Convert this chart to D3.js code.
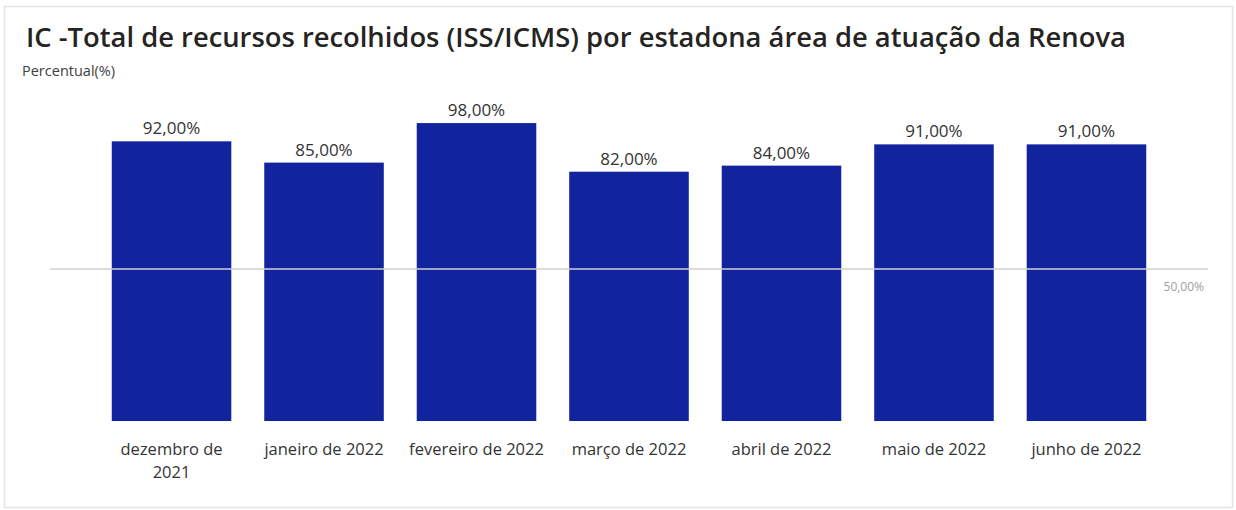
<!DOCTYPE html>
<html>
<head>
<meta charset="utf-8">
<script src="https://cdn.jsdelivr.net/npm/d3@7"></script>
<style>
  body { margin: 0; background: #fff; }
  text { font-family: "Open Sans", "Noto Sans", sans-serif; }
</style>
</head>
<body>
<div id="chart"></div>
<script>
// data
var categories = ["dezembro de\n2021", "janeiro de 2022", "fevereiro de 2022", "março de 2022",
                  "abril de 2022", "maio de 2022", "junho de 2022"];
var values = [92, 85, 98, 82, 84, 91, 91];
var refValue = 50;
var yDomain = [0, 100];

var W = 1236, H = 510;
var fmt = function(v) { return d3.format(".2f")(v).replace(".", ",") + "%"; };

var svg = d3.select("#chart")
  .append("svg")
    .attr("width", W)
    .attr("height", H);

// card frame
svg.append("rect")
  .attr("x", 4.5).attr("y", 6.5)
  .attr("width", 1228)
  .attr("height", 501)
  .attr("fill", "#fff")
  .attr("stroke", "#e4e4e4")
  .attr("stroke-width", 1.5);

// title
var title = svg.append("text")
  .attr("x", 26).attr("y", 47)
  .attr("font-weight", 600)
  .attr("font-size", 24)
  .attr("fill", "#252423")
  .text("IC -Total de recursos recolhidos (ISS/ICMS) por estadona área de atuação da Renova");
// fit to the width seen in the picture
var tl = title.node().getComputedTextLength();
title.attr("font-size", 24 * 1100 / tl);

svg.append("text")
  .attr("x", 22).attr("y", 76)
  .attr("font-size", 14.5)
  .attr("fill", "#404040")
  .text("Percentual(%)");

var x = d3.scaleBand()
  .domain(categories)
  .range([50, 1208])
  .paddingInner(0.216)
  .paddingOuter(0.405);

var y = d3.scaleLinear()
  .domain(yDomain)
  .range([421, 117]);

var g = svg.append("g");

// bars
g.selectAll("rect.bar")
  .data(values)
  .enter()
  .append("rect")
    .attr("class", "bar")
    .attr("x", (d, i) => x(categories[i]))
    .attr("y", d => y(d))
    .attr("width", x.bandwidth())
    .attr("height", d => y(0) - y(d))
    .attr("fill", "#12239E");

// reference line
g.append("line")
  .attr("x1", x.range()[0]).attr("x2", x.range()[1])
  .attr("y1", y(refValue)).attr("y2", y(refValue))
  .attr("stroke", "#d0d0d0")
  .attr("stroke-opacity", 0.75)
  .attr("stroke-width", 2);

g.append("text")
  .attr("x", 1204)
  .attr("y", y(refValue) + 22)
  .attr("text-anchor", "end")
  .attr("font-size", 12)
  .attr("fill", "#a0a0a0")
  .text(fmt(refValue));

// value labels
g.selectAll("text.val")
  .data(values)
  .enter()
  .append("text")
    .attr("class", "val")
    .attr("x", (d, i) => x(categories[i]) + x.bandwidth() / 2)
    .attr("y", d => y(d) - 7)
    .attr("text-anchor", "middle")
    .attr("font-size", 17)
    .attr("fill", "#333")
    .text(d => fmt(d));

// category labels
var xAxis = svg.append("g")
  .attr("transform", "translate(0," + y(0) + ")")
  .call(d3.axisBottom(x).tickSize(0).tickPadding(0));
xAxis.select(".domain").remove();
xAxis.selectAll(".tick text").remove();
xAxis.selectAll(".tick").each(function(d) {
  var t = d3.select(this).append("text")
    .attr("text-anchor", "middle")
    .attr("font-size", 16.5)
    .attr("fill", "#333");
  d.split("\n").forEach(function(line, k) {
    t.append("tspan").attr("x", 0).attr("y", 34 + k * 23).text(line);
  });
});
</script>
</body>
</html>
